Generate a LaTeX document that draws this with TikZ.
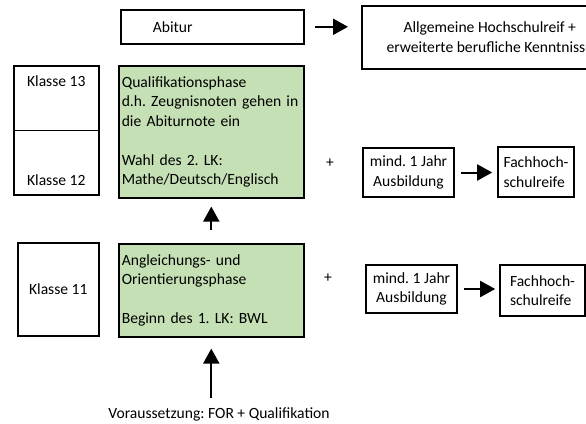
\documentclass[tikz,border=0pt]{standalone}
\usepackage{fontspec}
\setmainfont{Carlito}
\frenchspacing
\usetikzlibrary{arrows.meta}
\definecolor{phasegreen}{RGB}{197,224,180}

\begin{document}
\begin{tikzpicture}[x=1pt,y=-1pt,
  every node/.style={font=\fontsize{15.6}{19.5}\selectfont},
  box/.style={draw,line width=1.6pt,inner sep=2pt},
  phase/.style={box,fill=phasegreen,anchor=north west,align=left,inner xsep=3pt},
  pfeil/.style={line width=2pt,-{Triangle[length=15pt,width=16pt]}}]
\useasboundingbox (0,0) rectangle (586,423);
\clip (0,0) rectangle (586,423);

% top row
\node[box,anchor=north west,minimum width=183,minimum height=34,text width=177,align=left] (abitur) at (120,9) {\hspace*{29pt}Abitur};
\node[box,anchor=north west,minimum width=256,minimum height=63,align=center] (allg) at (361,5) {Allgemeine Hochschulreif +\\erweiterte berufliche Kenntnisse};

% classes
\node[box,anchor=north west,minimum width=85,minimum height=129,align=center] (kl1213) at (13,65) {Klasse 13\\[79.5pt]Klasse 12};
\draw[line width=1.6pt] (kl1213.west) -- (kl1213.east);
\node[box,anchor=north west,minimum width=81,minimum height=93] (kl11) at (17,242) {Klasse 11};

% phases
\node[phase,minimum width=185,minimum height=132,text width=179] (quali) at (118,65) {Qualifikationsphase\\d.h. Zeugnisnoten gehen in\\die Abiturnote ein\\[19.5pt]Wahl des 2. LK:\\Mathe/Deutsch/Englisch};
\node[phase,minimum width=185,minimum height=93,text width=179] (angl) at (118,243) {Angleichungs- und\\Orientierungsphase\\[19.5pt]Beginn des 1. LK: BWL};

% right side
\node (plusA) at (330,163) {+};
\node (plusB) at (328,278) {+};
\node[box,minimum width=91,minimum height=49,align=center] (mindA) at (408.5,172.5) {mind. 1 Jahr\\Ausbildung};
\node[box,minimum width=76,minimum height=50,align=left] (fachA) at (536,172) {Fachhoch-\\schulreife};
\node[box,minimum width=91,minimum height=48,align=center] (mindB) at (411.5,289) {mind. 1 Jahr\\Ausbildung};
\node[box,minimum width=85,minimum height=51,align=left] (fachB) at (542.5,290.5) {Fachhoch-\\schulreife};

\node (pre) at (219,414) {Voraussetzung: FOR + Qualifikation};

% arrows
\draw[pfeil,shorten <=10pt,shorten >=13pt] (abitur.east) -- (abitur.east -| allg.west);
\draw[pfeil,shorten <=6pt,shorten >=5pt] (mindA.east) -- (mindA.east -| fachA.west);
\draw[pfeil,shorten <=6pt,shorten >=4pt] (mindB.east) -- (mindB.east -| fachB.west);
\draw[pfeil,shorten <=13pt,shorten >=8pt] (angl.north) -- (quali.south);
\draw[pfeil,shorten <=6pt,shorten >=11pt] (angl.south |- pre.north) -- (angl.south);
\end{tikzpicture}
\end{document}
